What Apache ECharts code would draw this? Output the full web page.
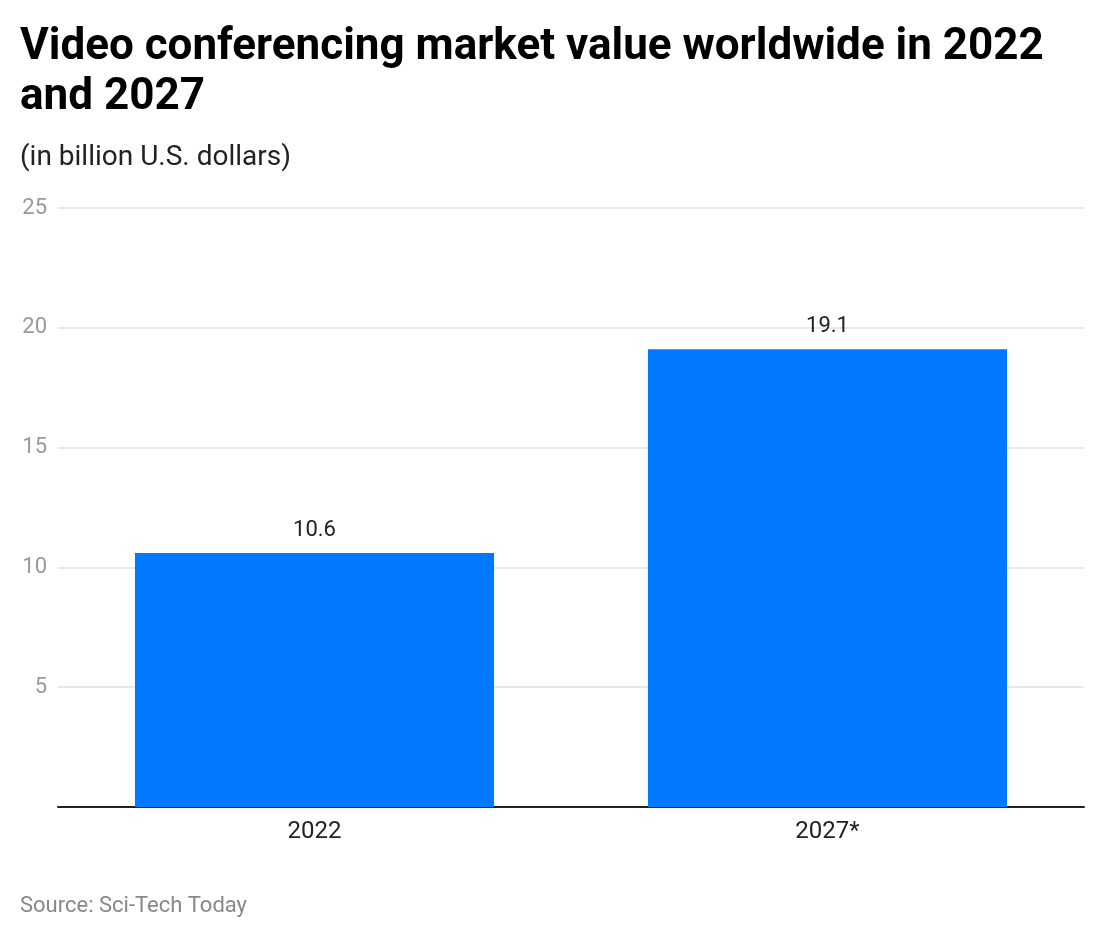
<!DOCTYPE html>
<html>
<head>
<meta charset="utf-8">
<script src="https://cdn.jsdelivr.net/npm/echarts@6/dist/echarts.min.js"></script>
<style>html,body{margin:0;padding:0;background:#fff;}#chart{width:1104px;height:938px;}</style>
</head>
<body>
<div id="chart"></div>
<script>
const categories = ['2022', '2027*'];
const values = [10.6, 19.1];
const yTicks = [0, 5, 10, 15, 20, 25];

const chart = echarts.init(document.getElementById('chart'));
chart.setOption({
  backgroundColor: '#fff',
  textStyle: { fontFamily: 'Roboto' },
  title: [
    {
      text: 'Video conferencing market value worldwide in 2022\nand 2027',
      left: 20, top: 23, padding: 0,
      textStyle: { fontFamily: 'Roboto', fontWeight: 'bold', fontSize: 44, lineHeight: 50, color: '#000' }
    },
    {
      text: '(in billion U.S. dollars)',
      left: 20, top: 144, padding: 0,
      textStyle: { fontFamily: 'Roboto', fontWeight: 'normal', fontSize: 28, lineHeight: 28, color: '#222' }
    },
    {
      text: 'Source: Sci-Tech Today',
      left: 20, top: 895, padding: 0,
      textStyle: { fontFamily: 'Roboto', fontWeight: 'normal', fontSize: 22, lineHeight: 22, color: '#888' }
    }
  ],
  grid: { left: 58, right: 20, top: 208, bottom: 131, containLabel: false },
  xAxis: {
    type: 'category',
    data: categories,
    axisLine: { lineStyle: { color: '#222', width: 2 } },
    axisTick: { show: false },
    axisLabel: { fontSize: 24, color: '#222', margin: 13, fontFamily: 'Roboto' }
  },
  yAxis: {
    type: 'value',
    min: yTicks[0], max: yTicks[yTicks.length - 1], interval: 5,
    axisLine: { show: false },
    axisTick: { show: false },
    splitLine: { lineStyle: { color: '#e0e0e0', width: 1.5 } },
    axisLabel: {
      fontSize: 22, color: '#999', margin: 11, fontFamily: 'Roboto',
      formatter: v => v === 0 ? '' : String(v)
    }
  },
  series: [{
    type: 'bar',
    data: values,
    barWidth: '70%',
    itemStyle: { color: '#0078FF' },
    label: { show: true, position: 'top', distance: 12, fontSize: 22, color: '#222', fontFamily: 'Roboto' }
  }]
});
</script>
</body>
</html>
